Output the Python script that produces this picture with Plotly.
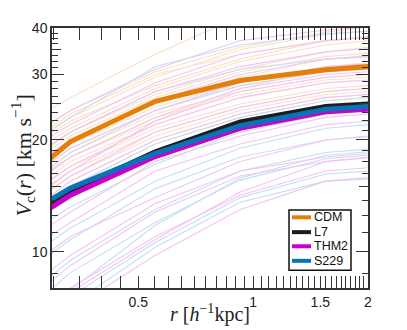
import math
import plotly.graph_objects as go

# radii (h^-1 kpc) at which circular velocities were sampled
r = [0.199, 0.332, 0.554, 0.925, 1.55, 2.58]

# thick median curves (km/s)
cdm = [12.75, 19.8, 25.4, 28.9, 30.9, 32.1]
l7 = [10.3, 14.6, 18.6, 22.35, 24.6, 25.4]
thm2 = [10.2, 14.2, 18.05, 21.5, 23.8, 24.6]
s229 = [10.9, 14.85, 18.4, 21.85, 24.2, 25.0]

# individual haloes (faint lines)
cdm_halos = [
    [19.0, 26.0, 34.0, 43.0, 48.0, 50.0],
    [17.5, 24.0, 30.5, 35.5, 39.0, 41.5],
    [17.0, 23.0, 29.5, 35.0, 38.5, 40.0],
    [16.5, 23.5, 30.0, 34.0, 37.0, 38.5],
    [16.0, 22.5, 28.0, 33.0, 37.0, 39.0],
    [15.5, 21.5, 27.5, 32.5, 36.0, 38.0],
    [15.0, 21.0, 26.5, 31.0, 34.5, 36.5],
    [14.5, 20.5, 26.0, 30.5, 33.5, 35.0],
    [14.0, 20.0, 25.0, 29.5, 33.0, 34.5],
    [13.5, 19.5, 24.5, 28.5, 31.5, 33.0],
    [13.0, 19.0, 24.0, 28.0, 30.5, 32.0],
    [13.0, 18.0, 22.5, 27.5, 31.0, 32.5],
    [12.5, 18.5, 23.5, 27.0, 29.5, 30.5],
    [12.0, 18.0, 23.0, 26.5, 29.0, 30.0],
    [12.0, 17.5, 22.0, 26.0, 28.5, 29.5],
    [11.5, 17.0, 21.5, 25.0, 27.5, 28.5],
    [11.0, 16.5, 21.0, 24.5, 27.0, 28.0],
    [11.0, 16.0, 20.5, 24.0, 26.5, 27.5],
    [10.5, 15.5, 20.0, 23.5, 26.0, 27.0],
    [10.0, 15.0, 19.5, 23.0, 25.5, 26.5],
]
thm2_halos = [
    [17.0, 24.0, 31.0, 37.0, 39.5, 41.0],
    [16.0, 22.0, 28.5, 34.0, 37.0, 38.5],
    [15.0, 21.0, 27.0, 31.5, 34.5, 36.0],
    [14.0, 20.0, 25.5, 30.0, 33.0, 34.0],
    [13.0, 19.0, 24.0, 28.5, 31.5, 32.5],
    [12.5, 18.0, 23.0, 27.5, 30.0, 31.0],
    [11.5, 16.5, 22.5, 27.0, 29.5, 30.5],
    [12.0, 17.0, 22.0, 26.0, 28.5, 29.5],
    [11.0, 16.0, 21.0, 24.5, 27.0, 28.0],
    [10.5, 15.5, 20.0, 23.5, 26.0, 27.0],
    [9.0, 12.8, 17.5, 20.5, 23.0, 24.0],
    [8.5, 12.0, 16.5, 19.5, 22.0, 23.0],
    [7.5, 11.0, 14.0, 17.5, 20.0, 21.0],
    [6.5, 9.8, 13.5, 16.5, 18.0, 18.8],
    [6.0, 9.2, 12.8, 16.0, 17.5, 18.3],
    [5.0, 8.0, 11.0, 14.2, 16.5, 17.2],
    [5.0, 7.8, 10.8, 14.5, 17.5, 18.5],
    [4.0, 7.0, 9.8, 13.0, 15.5, 16.2],
]
s229_halos = [
    [16.0, 23.0, 31.5, 36.0, 38.5, 40.0],
    [14.5, 21.0, 27.0, 31.0, 33.0, 34.0],
    [12.5, 18.5, 24.0, 28.0, 30.5, 31.5],
    [10.5, 15.0, 19.5, 23.0, 25.5, 26.5],
    [9.5, 13.2, 17.2, 21.0, 23.5, 24.5],
    [8.0, 11.6, 15.5, 19.0, 21.5, 22.5],
    [7.3, 10.8, 14.8, 18.0, 20.0, 20.8],
    [6.2, 9.5, 13.0, 16.5, 18.5, 19.3],
    [5.6, 8.8, 12.0, 15.6, 17.8, 18.6],
    [4.8, 7.9, 11.8, 15.8, 18.2, 19.0],
    [4.6, 7.6, 10.6, 14.0, 16.2, 16.8],
    [4.2, 7.2, 10.3, 13.6, 15.5, 15.9],
]

names = ["CDM", "L7", "THM2", "S229"]
x_tickvals = [0.5, 1, 1.5, 2]
x_ticktext = ["0.5", "1", "1.5", "2"]
y_tickvals = [10, 20, 30, 40]
y_ticktext = ["10", "20", "30", "40"]
y_midticks = [15, 25, 35]
x_title = "<i>r</i> [<i>h</i><sup>−1</sup>kpc]"
y_title = "<i>V</i><sub>c</sub>(<i>r</i>) [km s<sup>−1</sup>]"

COL = {"CDM": "#e57f0a", "L7": "#1c1c1c", "THM2": "#c800c8", "S229": "#0b72b8"}
FAINT = {"CDM": "#fae0c6", "THM2": "#f3c4f2", "S229": "#c6def3"}

fig = go.Figure()
for v in cdm_halos:
    fig.add_trace(go.Scatter(x=r, y=v, mode="lines", line=dict(color=FAINT["CDM"], width=1.1),
                             showlegend=False, hoverinfo="skip"))
nmax = max(len(thm2_halos), len(s229_halos))
for i in range(nmax):
    if i < len(thm2_halos):
        fig.add_trace(go.Scatter(x=r, y=thm2_halos[i], mode="lines",
                                 line=dict(color=FAINT["THM2"], width=1.1),
                                 showlegend=False, hoverinfo="skip"))
    if i < len(s229_halos):
        fig.add_trace(go.Scatter(x=r, y=s229_halos[i], mode="lines",
                                 line=dict(color=FAINT["S229"], width=1.1),
                                 showlegend=False, hoverinfo="skip"))

for name, vals in zip(names, [cdm, l7, thm2, s229]):
    fig.add_trace(go.Scatter(x=r, y=vals, mode="lines", name=name,
                             line=dict(color=COL[name], width=5), showlegend=False))

# placeholder trace so the medium-tick axis is drawn
fig.add_trace(go.Scatter(x=[0.5], y=[15], yaxis="y2", mode="markers",
                         marker=dict(opacity=0), showlegend=False, hoverinfo="skip"))

# x minor ticks every 0.05, y minor every 1.25
x_minor = [round(0.3 + 0.05 * i, 2) for i in range(34)]
x_minor = [t for t in x_minor if t not in (0.5, 1.0, 1.5, 2.0)]
y_minor = [8.75 + 1.25 * i for i in range(26)]
y_minor = [t for t in y_minor if t % 5 != 0]

xr = [math.log10(0.297), math.log10(2)]
yr = [math.log10(8), math.log10(40)]

# the page body has an 8px margin, so the figure is offset by 8px; compensate
OFF = 8
tickfont = dict(family="Liberation Sans, Arial, sans-serif", size=14, color="#222")
serif = "Liberation Serif, Times New Roman, serif"
fig.update_layout(
    width=407, height=330,
    margin=dict(l=52 - OFF, r=39 + OFF, t=25 - OFF, b=42 + OFF),
    paper_bgcolor="white", plot_bgcolor="white",
    xaxis=dict(type="log", range=xr, tickvals=x_tickvals, ticktext=x_ticktext,
               ticks="inside", ticklen=12, tickwidth=1.2, tickcolor="#333",
               showline=True, linecolor="#333", linewidth=1.5, mirror="allticks",
               showgrid=False, zeroline=False, tickfont=tickfont,
               minor=dict(tickvals=x_minor, ticks="inside", ticklen=5, tickwidth=1,
                          tickcolor="#333", showgrid=False)),
    yaxis=dict(type="log", range=yr, tickvals=y_tickvals, ticktext=y_ticktext,
               ticks="inside", ticklen=12, tickwidth=1.2, tickcolor="#333",
               showline=True, linecolor="#333", linewidth=1.5, mirror="allticks",
               showgrid=False, zeroline=False, tickfont=tickfont,
               minor=dict(tickvals=y_minor, ticks="inside", ticklen=6, tickwidth=1,
                          tickcolor="#333", showgrid=False)),
    yaxis2=dict(type="log", range=yr, overlaying="y", anchor="x", side="left",
                tickvals=y_midticks, ticks="inside", ticklen=9, tickwidth=1.2, tickcolor="#333",
                mirror="allticks", showline=False, showgrid=False, zeroline=False,
                showticklabels=False),
    showlegend=False,
)

# helpers: page pixel -> paper coordinates (plot area spans x 52..368, y 25..288 on the page)
def px2paper_x(px):
    return (px - 52) / 316.0

def py2paper_y(py):
    return (288 - py) / 263.0

# axis titles
fig.add_annotation(xref="paper", yref="paper", x=px2paper_x(210), y=py2paper_y(314),
                   text=x_title, showarrow=False, xanchor="center", yanchor="middle",
                   font=dict(family=serif, size=20, color="#222"))
fig.add_annotation(xref="paper", yref="paper", x=px2paper_x(23), y=py2paper_y(154),
                   text=y_title, showarrow=False, xanchor="center", yanchor="middle",
                   textangle=-90, font=dict(family=serif, size=22, color="#222"))

# custom legend box
fig.add_shape(type="rect", xref="paper", yref="paper",
              x0=px2paper_x(289), x1=px2paper_x(351), y0=py2paper_y(270), y1=py2paper_y(209),
              line=dict(color="#111", width=1.5), fillcolor="white", layer="above")
rows = [216.5, 231.5, 245.8, 260.5]
for name, py in zip(names, rows):
    fig.add_shape(type="line", xref="paper", yref="paper",
                  x0=px2paper_x(292), x1=px2paper_x(311), y0=py2paper_y(py), y1=py2paper_y(py),
                  line=dict(color=COL[name], width=4), layer="above")
    fig.add_annotation(xref="paper", yref="paper", x=px2paper_x(312), y=py2paper_y(py),
                       text=name, showarrow=False, xanchor="left", yanchor="middle",
                       font=dict(family="Liberation Sans, Arial, sans-serif", size=12.5, color="#111"))

fig.write_html("out.html")
